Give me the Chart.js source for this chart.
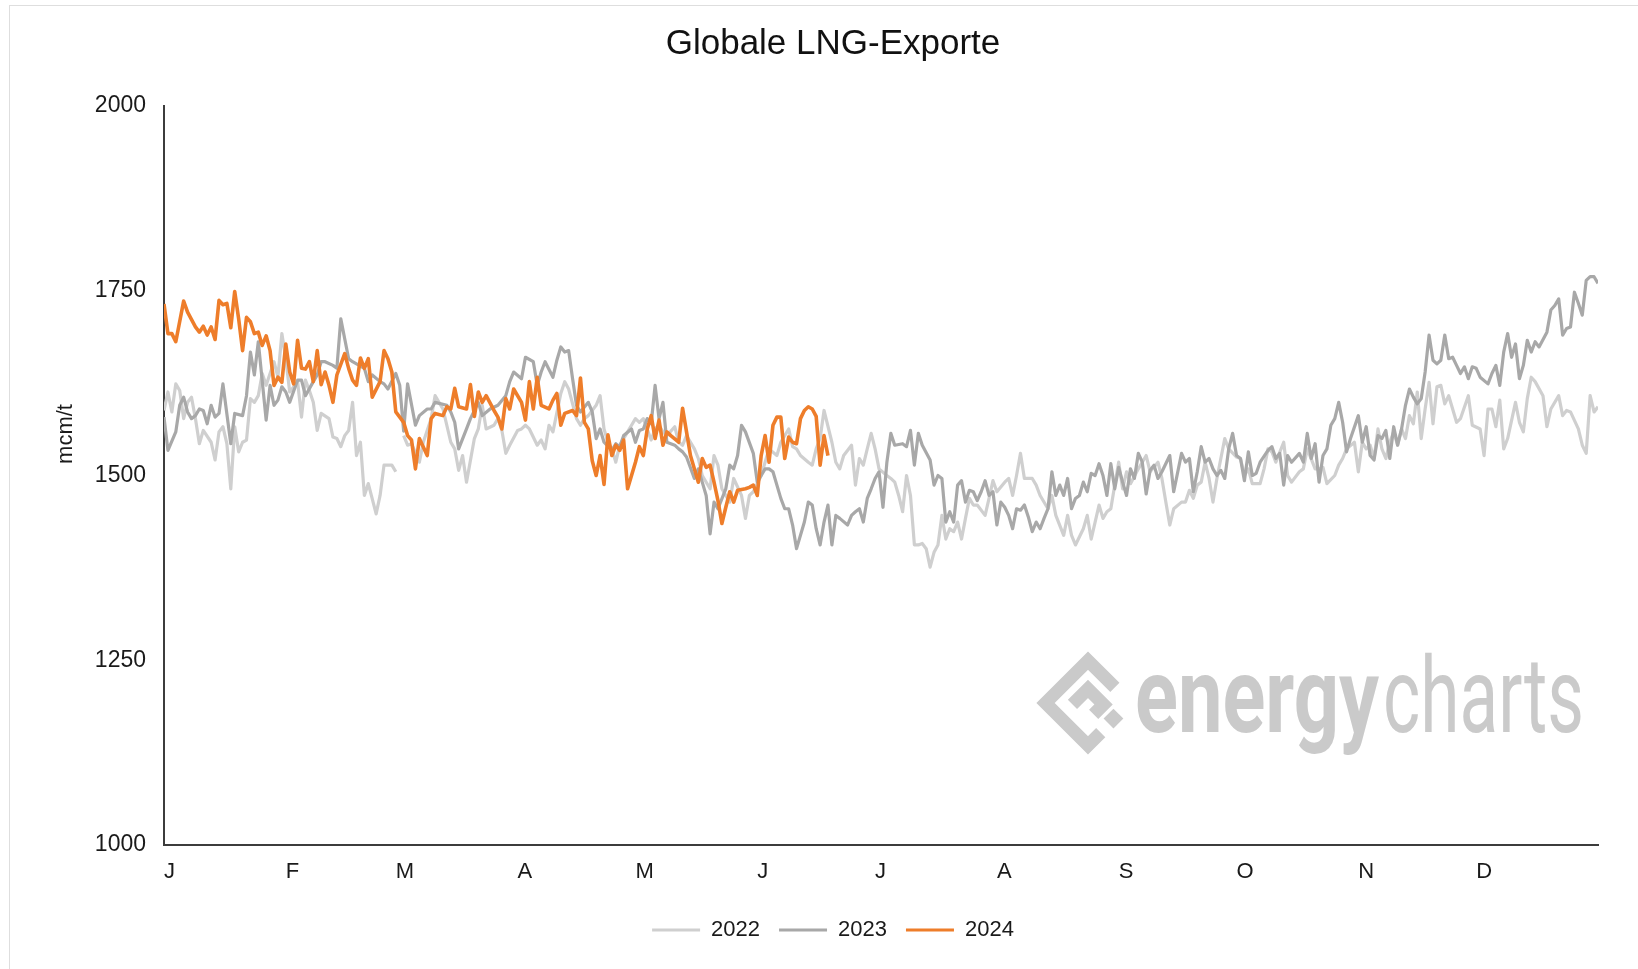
<!DOCTYPE html>
<html lang="de">
<head>
<meta charset="UTF-8">
<title>Globale LNG-Exporte</title>
<script src="https://cdn.jsdelivr.net/npm/chart.js"></script>
<style>
  html, body { margin: 0; padding: 0; background: #fff; overflow: hidden; }
  .frame { position: absolute; left: 9px; top: 5px; width: 1700px; height: 1000px;
           border-left: 1px solid #dedede; border-top: 1px solid #dedede; }
  .wrap { position: absolute; left: 0; top: 0; width: 1638px; height: 969px; }
</style>
</head>
<body>
<div class="frame"></div>
<div class="wrap"><canvas id="lngChart" width="1638" height="969"></canvas></div>
<script>
// month ticks (day of year) and their labels
const monthStarts = [0, 31, 59, 90, 120, 151, 181, 212, 243, 273, 304, 334];
const monthLabels = ['J', 'F', 'M', 'A', 'M', 'J', 'J', 'A', 'S', 'O', 'N', 'D'];
const yTicks = [1000, 1250, 1500, 1750, 2000];

// [day of year, mcm/t]; null = gap in the data
const exports2022 = [[0,1588],[1,1613],[2,1586],[3,1624],[4,1615],[5,1577],[6,1599],[7,1606],[8,1577],[9,1543],[10,1561],[12,1545],[13,1521],[14,1559],[15,1566],[16,1543],[17,1482],[18,1566],[19,1532],[20,1545],[21,1548],[22,1604],[23,1599],[24,1608],[25,1638],[26,1622],[28,1654],[29,1633],[30,1692],[31,1658],[32,1613],[34,1627],[35,1579],[36,1629],[37,1615],[38,1599],[39,1561],[40,1584],[42,1577],[43,1552],[44,1550],[45,1539],[46,1554],[47,1561],[48,1599],[49,1527],[50,1545],[51,1473],[52,1489],[54,1448],[55,1473],[56,1514],[58,1514],[59,1505],[60,null],
  [61,1554],[62,1541],[63,1543],[65,1518],[66,1545],[68,1577],[69,1608],[70,1599],[71,1590],[73,1545],[74,1536],[75,1507],[76,1527],[77,1491],[79,1550],[80,1563],[81,1595],[82,1563],[84,1568],[85,1577],[86,1561],[87,1530],[88,1541],[90,1561],[91,1563],[92,1568],[93,1563],[95,1541],[96,1548],[97,1536],[98,1568],[99,1559],[101,1611],[102,1627],[103,1617],[105,1577],[106,1568],[107,1577],[108,1581],[110,1595],[111,1608],[112,1563],[113,1545],[114,1536],[115,1518],[116,1541],[118,1559],[119,1568],[120,1577],[121,1572],[122,1577],[124,1548],[125,1563],[126,1568],[127,1559],[128,1554],[130,1566],[131,1545],[132,1541],[133,1554],[135,1536],[136,1523],[137,1500],[139,1482],[140,1527],[141,1514],[142,1482],[144,1464],[145,1496],[147,1473],[148,1442],[149,1473],[150,1478],[152,1500],[153,1518],[154,1536],[156,1527],[157,1545],[159,1563],[160,1539],[161,1536],[162,1527],[164,1518],[165,1514],[166,1536],[167,1550],[168,1588],[170,1545],[171,1518],[172,1509],[173,1527],[175,1541],[176,1487],[177,1523],[178,1514],[179,1536],[180,1557],[181,1536],[182,1509],[184,1500],[185,1496],[186,1491],[187,1473],[188,1451],[189,1500],[190,1473],[191,1406],[192,1406],[193,1408],[194,1401],[195,1376],[196,1396],[197,1406],[198,1446],[199,1414],[200,1428],[201,1424],[202,1437],[203,1414],[204,1442],[205,1469],[206,1460],[207,1460],[209,1446],[210,1469],[211,1493],[212,1478],[214,1491],[215,1496],[216,1473],[217,1500],[218,1530],[219,1496],[221,1496],[222,1487],[223,1473],[225,1455],[226,1473],[227,1446],[229,1419],[230,1446],[231,1419],[232,1406],[234,1428],[235,1446],[236,1414],[237,1437],[238,1460],[239,1442],[240,1451],[241,1455],[242,1487],[243,1518],[244,1482],[245,1505],[246,1489],[248,1509],[249,1518],[250,1527],[251,1505],[253,1518],[254,1496],[255,1464],[256,1433],[257,1455],[259,1464],[260,1464],[261,1480],[262,1469],[263,1487],[264,1491],[265,1518],[266,1496],[267,1464],[268,1496],[270,1550],[271,1536],[273,1525],[274,1523],[275,1500],[276,1509],[277,1489],[279,1489],[280,1509],[281,1536],[282,1532],[283,1518],[285,1545],[286,1500],[287,1491],[289,1505],[290,1509],[291,1536],[293,1509],[294,1509],[295,1511],[296,1489],[298,1500],[299,1514],[300,1523],[301,1536],[303,1545],[304,1505],[305,1545],[306,1536],[307,1541],[308,1523],[309,1563],[310,1536],[311,1523],[312,1545],[313,1559],[314,1541],[315,1563],[316,1550],[317,1581],[318,1570],[319,1613],[320,1550],[321,1590],[322,1626],[323,1570],[324,1620],[325,1622],[326,1597],[327,1608],[329,1572],[330,1577],[332,1608],[333,1568],[335,1563],[336,1527],[337,1590],[338,1590],[339,1566],[340,1602],[341,1536],[342,1550],[344,1599],[345,1572],[346,1559],[347,1604],[348,1633],[349,1627],[351,1608],[352,1566],[353,1590],[355,1608],[356,1581],[357,1588],[358,1586],[360,1563],[361,1541],[362,1530],[363,1608],[364,1586],[365,1593]];

const exports2023 = [[0,1579],[1,1534],[3,1559],[4,1595],[5,1606],[6,1586],[7,1577],[8,1581],[9,1590],[10,1588],[11,1570],[12,1595],[13,1579],[14,1584],[15,1624],[17,1543],[18,1584],[20,1581],[21,1608],[22,1667],[23,1636],[24,1681],[26,1575],[27,1622],[28,1595],[29,1602],[30,1620],[31,1613],[32,1599],[34,1629],[35,1629],[36,1608],[38,1627],[39,1636],[40,1654],[41,1654],[43,1649],[44,1645],[45,1712],[47,1658],[48,1654],[49,1651],[51,1645],[52,1627],[53,1636],[55,1627],[56,1624],[57,1617],[59,1638],[60,1622],[61,1560],[62,1624],[64,1568],[65,1581],[67,1590],[68,1590],[69,1599],[72,1595],[73,1586],[74,1572],[75,1536],[77,1563],[78,1577],[80,1599],[81,1581],[83,1590],[85,1595],[87,1608],[88,1627],[89,1640],[91,1631],[92,1660],[94,1654],[95,1622],[96,1640],[97,1654],[99,1633],[100,1656],[101,1674],[102,1667],[103,1669],[104,1631],[105,1595],[106,1586],[108,1599],[109,1586],[110,1550],[111,1563],[112,1545],[114,1534],[115,1543],[116,1539],[117,1554],[119,1563],[120,1545],[121,1561],[122,1563],[123,1577],[124,1570],[125,1622],[126,1577],[127,1599],[128,1545],[130,1541],[131,1536],[132,1532],[133,1525],[135,1496],[136,1509],[137,1491],[138,1473],[139,1421],[140,1464],[141,1455],[143,1482],[144,1514],[145,1509],[146,1527],[147,1568],[148,1559],[150,1530],[151,1491],[152,1500],[153,1509],[154,1509],[155,1505],[157,1469],[158,1455],[159,1455],[160,1433],[161,1401],[163,1437],[164,1464],[165,1460],[166,1428],[167,1406],[168,1437],[169,1460],[170,1406],[171,1446],[172,1442],[174,1433],[175,1446],[176,1451],[177,1455],[178,1437],[179,1469],[180,1482],[181,1496],[182,1505],[183,1457],[184,1518],[185,1557],[186,1541],[188,1543],[189,1539],[190,1561],[191,1514],[192,1557],[193,1541],[195,1521],[196,1487],[197,1500],[198,1496],[199,1437],[200,1451],[201,1437],[202,1487],[203,1493],[204,1464],[205,1480],[206,1478],[207,1466],[208,1478],[209,1493],[210,1473],[211,1478],[212,1433],[213,1464],[214,1457],[215,1446],[216,1428],[217,1455],[218,1453],[219,1460],[220,1444],[221,1424],[222,1437],[223,1428],[224,1442],[225,1455],[226,1505],[227,1473],[228,1487],[229,1473],[230,1496],[231,1455],[232,1469],[233,1473],[234,1491],[235,1478],[236,1503],[237,1500],[238,1516],[239,1500],[240,1473],[241,1516],[242,1482],[243,1511],[244,1491],[245,1473],[246,1509],[247,1496],[248,1530],[249,1518],[250,1475],[251,1507],[252,1514],[253,1496],[254,1505],[256,1527],[257,1478],[259,1530],[260,1518],[261,1523],[262,1478],[263,1505],[264,1539],[265,1518],[266,1523],[267,1509],[268,1500],[269,1507],[270,1496],[271,1536],[272,1557],[273,1527],[274,1523],[275,1493],[276,1532],[277,1500],[278,1503],[279,1518],[281,1534],[282,1539],[283,1523],[284,1530],[285,1487],[286,1527],[287,1518],[289,1530],[290,1518],[291,1557],[292,1523],[293,1543],[294,1491],[295,1527],[296,1536],[297,1568],[298,1577],[299,1599],[300,1572],[301,1532],[302,1550],[304,1581],[305,1545],[306,1566],[307,1527],[308,1521],[309,1554],[310,1550],[311,1561],[312,1523],[313,1566],[314,1541],[315,1563],[316,1595],[317,1617],[318,1606],[319,1597],[320,1604],[321,1640],[322,1690],[323,1656],[324,1651],[325,1656],[326,1690],[327,1658],[328,1660],[329,1649],[330,1638],[331,1647],[332,1631],[333,1647],[334,1645],[335,1633],[337,1624],[338,1638],[339,1649],[340,1622],[341,1667],[342,1692],[343,1660],[344,1678],[345,1631],[346,1649],[347,1683],[348,1667],[349,1681],[350,1674],[352,1694],[353,1724],[354,1730],[355,1739],[356,1690],[357,1699],[358,1701],[359,1748],[360,1733],[361,1717],[362,1764],[363,1769],[364,1769],[365,1760]];

const exports2024 = [[0,1732],[1,1692],[2,1692],[3,1681],[5,1736],[6,1721],[8,1701],[9,1694],[10,1702],[11,1690],[12,1701],[13,1684],[14,1737],[15,1731],[16,1733],[17,1700],[18,1749],[19,1712],[20,1669],[21,1714],[22,1708],[23,1692],[24,1694],[25,1676],[26,1689],[27,1669],[28,1622],[29,1633],[30,1626],[31,1678],[32,1640],[33,1624],[34,1683],[35,1645],[36,1644],[37,1654],[38,1627],[39,1669],[40,1623],[41,1640],[42,1622],[43,1599],[44,1636],[46,1665],[47,1645],[48,1629],[49,1622],[50,1659],[51,1645],[52,1658],[53,1606],[55,1627],[56,1669],[57,1658],[58,1640],[59,1586],[61,1572],[62,1554],[63,1548],[64,1509],[65,1550],[67,1527],[68,1577],[69,1584],[71,1581],[72,1593],[73,1590],[74,1618],[75,1593],[77,1590],[78,1623],[79,1580],[80,1613],[81,1599],[82,1608],[84,1588],[85,1579],[86,1563],[87,1604],[88,1590],[89,1617],[91,1599],[92,1575],[93,1627],[94,1590],[95,1633],[96,1595],[98,1590],[99,1602],[100,1611],[101,1568],[102,1584],[104,1588],[105,1581],[106,1632],[107,1572],[108,1563],[109,1520],[110,1500],[111,1527],[112,1488],[113,1555],[114,1527],[115,1541],[116,1534],[117,1548],[118,1482],[120,1518],[121,1539],[122,1527],[123,1563],[124,1581],[125,1550],[126,1575],[127,1541],[128,1559],[129,1554],[131,1545],[132,1591],[133,1559],[134,1527],[136,1491],[137,1523],[138,1511],[139,1514],[140,1491],[141,1466],[142,1435],[143,1457],[144,1478],[145,1464],[146,1480],[148,1482],[149,1484],[150,1487],[151,1473],[152,1527],[153,1554],[154,1518],[155,1568],[156,1579],[157,1579],[158,1523],[159,1552],[160,1545],[161,1543],[162,1577],[163,1588],[164,1593],[165,1590],[166,1580],[167,1514],[168,1554],[169,1527]];

const seriesNames = ['2022', '2023', '2024'];
const seriesColors = ['#cfcfcf', '#a8a8a8', '#ee7d2a'];
const seriesWidths = [3.2, 3.2, 3.6];
const seriesData = [exports2022, exports2023, exports2024];

const font = 'Liberation Sans, Arial, sans-serif';

// vertical axis title, placed where the reference has it
const yTitlePlugin = {
  id: 'yTitle',
  afterDraw(chart) {
    const ctx = chart.ctx;
    ctx.save();
    ctx.translate(66, 434);
    ctx.rotate(-Math.PI / 2);
    ctx.font = '22px ' + font;
    ctx.fillStyle = '#1a1a1a';
    ctx.textAlign = 'center';
    ctx.textBaseline = 'middle';
    ctx.fillText('mcm/t', 0, 0);
    ctx.restore();
  }
};

// energycharts watermark in the lower right
const watermarkPlugin = {
  id: 'watermark',
  beforeDatasetsDraw(chart) {
    const ctx = chart.ctx;
    ctx.save();
    ctx.fillStyle = '#cacaca';
    ctx.strokeStyle = '#cacaca';
    // logo: broken diamond
    ctx.translate(1088, 703);
    ctx.rotate(Math.PI / 4);
    ctx.lineWidth = 13;
    ctx.beginPath();
    ctx.moveTo(8, -30);
    ctx.lineTo(-30, -30);
    ctx.lineTo(-30, 30);
    ctx.lineTo(30, 30);
    ctx.lineTo(30, 12);
    ctx.stroke();
    ctx.beginPath();
    ctx.moveTo(-10, 12);
    ctx.lineTo(-10, -10);
    ctx.lineTo(12, -10);
    ctx.lineTo(12, 4);
    ctx.stroke();
    ctx.fillRect(22, -14, 14, 14);
    ctx.restore();

    ctx.save();
    ctx.fillStyle = '#cacaca';
    ctx.textBaseline = 'alphabetic';
    ctx.font = 'bold 105px Roboto, sans-serif';
    const w1 = ctx.measureText('energy').width;
    ctx.translate(1135, 732);
    ctx.save();
    ctx.scale(244 / w1, 1);
    ctx.fillText('energy', 0, 0);
    ctx.restore();
    ctx.font = '105px Roboto, sans-serif';
    const w2 = ctx.measureText('charts').width;
    ctx.translate(248, 0);
    ctx.scale(201 / w2, 1);
    ctx.fillText('charts', 0, 0);
    ctx.restore();
  }
};

new Chart(document.getElementById('lngChart'), {
  type: 'line',
  data: {
    datasets: seriesNames.map((name, i) => ({
      label: name,
      data: seriesData[i].map(p => ({ x: p[0], y: p[1] })),
      borderColor: seriesColors[i],
      backgroundColor: seriesColors[i],
      borderWidth: seriesWidths[i],
      pointRadius: 0,
      tension: 0,
      spanGaps: false,
      borderJoinStyle: 'round',
      order: 2 - i
    }))
  },
  options: {
    responsive: false,
    devicePixelRatio: 1,
    animation: false,
    events: [],
    layout: { padding: { left: 68, right: 40, top: 23, bottom: 18 } },
    plugins: {
      title: {
        display: true,
        text: 'Globale LNG-Exporte',
        color: '#111',
        font: { family: font, size: 35, weight: 'normal' },
        padding: { top: 0, bottom: 41 }
      },
      legend: {
        position: 'bottom',
        labels: {
          color: '#1a1a1a',
          font: { family: font, size: 22 },
          boxWidth: 48,
          boxHeight: 3,
          padding: 19,
          generateLabels: chart => Chart.defaults.plugins.legend.labels.generateLabels(chart)
            .map(item => Object.assign(item, { lineWidth: 0 })),
          sort: (a, b) => a.datasetIndex - b.datasetIndex
        }
      },
      tooltip: { enabled: false }
    },
    scales: {
      x: {
        type: 'linear',
        min: 0,
        max: 365,
        afterBuildTicks: s => { s.ticks = monthStarts.map(v => ({ value: v })); },
        afterFit: s => { s.height = 55; },
        grid: { display: false, drawTicks: false },
        border: { display: true, color: '#3c3c3c', width: 2 },
        ticks: {
          align: 'start',
          autoSkip: false,
          maxRotation: 0,
          padding: 14,
          color: '#1a1a1a',
          font: { family: font, size: 22 },
          callback: (v, i) => monthLabels[i]
        }
      },
      y: {
        min: 1000,
        max: 2000,
        afterBuildTicks: s => { s.ticks = yTicks.map(v => ({ value: v })); },
        afterFit: s => { s.width = 96; },
        grid: { display: false, drawTicks: false },
        border: { display: true, color: '#3c3c3c', width: 2 },
        ticks: {
          padding: 18,
          color: '#1a1a1a',
          font: { family: font, size: 23 },
          callback: v => String(v)
        }
      }
    }
  },
  plugins: [yTitlePlugin, watermarkPlugin]
});
</script>
</body>
</html>
